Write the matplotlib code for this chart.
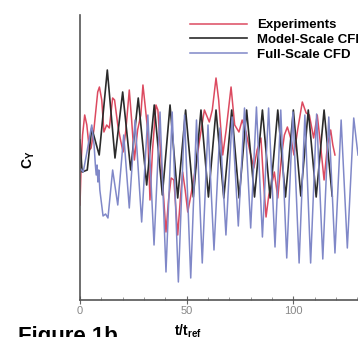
import matplotlib
matplotlib.use("Agg")
import matplotlib.pyplot as plt
from matplotlib.ticker import MultipleLocator

plt.rcParams['font.family'] = ['Liberation Sans', 'DejaVu Sans']
plt.rcParams['mathtext.default'] = 'regular'

# Experiments (red), t/t_ref and C_Y
t_exp = [0, 0.6, 1.2, 2.2, 3.2, 4.4, 5.2, 6.5, 8.3, 9.1, 10.2, 11.2, 12.5, 13.75,
         15.3, 16.2, 17.7, 19, 20.2, 21.5, 23.1, 24.2, 25.5, 27, 28.5, 29.5, 30.5,
         31.7, 32.8, 34, 35.6, 36.5, 38, 40.3, 41.5, 42.7, 44, 45.8, 47, 48.1, 49.3,
         50.5, 52, 54.4, 55.9, 58.3, 60.6, 62, 63.75, 65, 66.9, 68.5, 70.8, 72.5,
         74.5, 76, 77.8, 79.5, 81.5, 83, 84.8, 86, 87.2, 88.5, 89.8, 91.1, 92.7,
         94.5, 95.8, 97.2, 99, 100.3, 102, 104.2, 106, 107.5, 109.5, 111.2, 112.5,
         114.4, 116, 117.5, 118.5, 119.5]
cy_exp = [-0.45, 0.0, 0.25, 0.45, 0.35, 0.1, 0.12, 0.3, 0.68, 0.73, 0.6, 0.28, 0.35, 0.32,
          0.62, 0.6, 0.35, 0.2, 0.08, 0.3, 0.7, 0.4, 0.0, 0.3, 0.45, 0.75, 0.55,
          0.3, -0.4, 0.1, 0.55, 0.5, 0.0, -0.72, -0.4, -0.18, -0.2, -0.75, -0.4, -0.12, -0.3,
          -0.52, -0.35, -0.05, 0.18, 0.5, 0.38, 0.5, 0.82, 0.6, 0.05, 0.3, 0.73, 0.35,
          0.28, 0.4, 0.28, 0.1, -0.08, 0.1, 0.22, -0.2, -0.57, -0.35, -0.25, -0.12, -0.38,
          0.05, 0.25, 0.33, 0.2, 0.05, 0.3, 0.58, 0.47, 0.45, 0.22, 0.45, 0.2,
          -0.2, 0.15, 0.3, 0.15, 0.05]

# Model-Scale CFD (black)
t_model = [0, 1, 3.4, 5.5, 9, 12.8, 16.4, 20, 23.75, 27.3, 31.25, 34.8, 38.6, 42.2,
           45.8, 49.5, 53.1, 56.7, 60.2, 63.75, 67.4, 71.1, 74.6, 78.1, 81.8, 85.5,
           89.1, 92.7, 96.3, 100, 103.5, 107, 110.7, 114.4, 118.2]
cy_model = [0.2, -0.12, -0.1, 0.32, 0.05, 0.9, 0.02, 0.68, -0.1, 0.62, -0.25, 0.55, -0.35, 0.55,
            -0.38, 0.5, -0.37, 0.5, -0.37, 0.5, -0.38, 0.5, -0.38, 0.5, -0.37, 0.5,
            -0.38, 0.5, -0.37, 0.5, -0.36, 0.5, -0.37, 0.5, -0.36]

# Full-Scale CFD (blue)
t_full = [0, 1.5, 3, 5.5, 6.6, 7.2, 7.6, 8.0, 8.4, 8.8, 9.3, 10.8, 12.0, 13.1, 15.3,
          17.7, 20.5, 23.1, 25.8, 28.9, 31.8, 34.7, 37.5, 40.3, 43.2, 46.1, 49.0,
          51.9, 54.6, 57.3, 60.0, 62.8, 65.6, 68.4, 71.3, 74.2, 77.1, 80.0, 82.7,
          85.5, 88.4, 91.4, 94.1, 96.9, 99.8, 102.7, 105.4, 108.1, 110.9, 113.8,
          116.6, 119.5, 122.4, 125.3, 128.3, 130.3]
cy_full = [-0.08, -0.12, 0.05, 0.35, 0.15, -0.05, -0.15, -0.05, -0.22, -0.1, -0.3, -0.56, -0.54, -0.58, -0.1,
           -0.45, 0.25, -0.48, 0.4, -0.62, 0.45, -0.85, 0.48, -1.12, 0.48, -1.22, 0.45,
           -1.18, 0.40, -1.03, 0.35, -0.90, 0.32, -0.75, 0.43, -0.66, 0.52, -0.68, 0.53,
           -0.77, 0.52, -0.87, 0.50, -0.98, 0.48, -1.03, 0.45, -1.03, 0.46, -0.99,
           0.43, -0.93, 0.40, -0.88, 0.42, 0.05]

fig = plt.figure(figsize=(3.58, 3.37), dpi=100)
ax = fig.add_axes([80/358, 37/337, 278/358, 285/337])

ax.plot(t_exp, cy_exp, color='#dc4a60', lw=1.1, label='Experiments')
ax.plot(t_model, cy_model, color='#2b2b2b', lw=1.2, label='Model-Scale CFD')
ax.plot(t_full, cy_full, color='#8088c8', lw=1.1, label='Full-Scale CFD')

ax.set_xlim(0, 130.3)
ax.set_ylim(-1.40, 1.45)

for s in ['top', 'right']:
    ax.spines[s].set_visible(False)
ax.spines['left'].set_color('#555555')
ax.spines['bottom'].set_color('#555555')
ax.spines['left'].set_linewidth(1.2)
ax.spines['bottom'].set_linewidth(1.2)

ax.xaxis.set_major_locator(MultipleLocator(50))
ax.xaxis.set_minor_locator(MultipleLocator(10))
ax.tick_params(axis='x', which='major', direction='inout', length=6, color='#666666',
               labelcolor='#888888', labelsize=8, pad=1)
ax.tick_params(axis='x', which='minor', direction='in', length=2.5, color='#888888')
ax.set_yticks([])

fig.text(188/358, 1 - 323/337, 't/t$_{ref}$', ha='center', va='top',
         fontsize=10, fontweight='bold')
fig.text(29/358, 1 - 160/337, 'C$_{Y}$', ha='center', va='center', rotation=90,
         fontsize=10, fontweight='bold')
fig.text(18/358, 1 - 326/337, 'Figure 1b', ha='left', va='top',
         fontsize=16, fontweight='bold')

ax.legend(loc='upper left', bbox_to_anchor=(190/358, 1 - 19/337),
          bbox_transform=fig.transFigure, frameon=False, borderpad=0,
          borderaxespad=0, handlelength=4.3, handletextpad=0.75, labelspacing=0.2,
          prop={'weight': 'bold', 'size': 9.5})

fig.savefig('out.png', dpi=100)
